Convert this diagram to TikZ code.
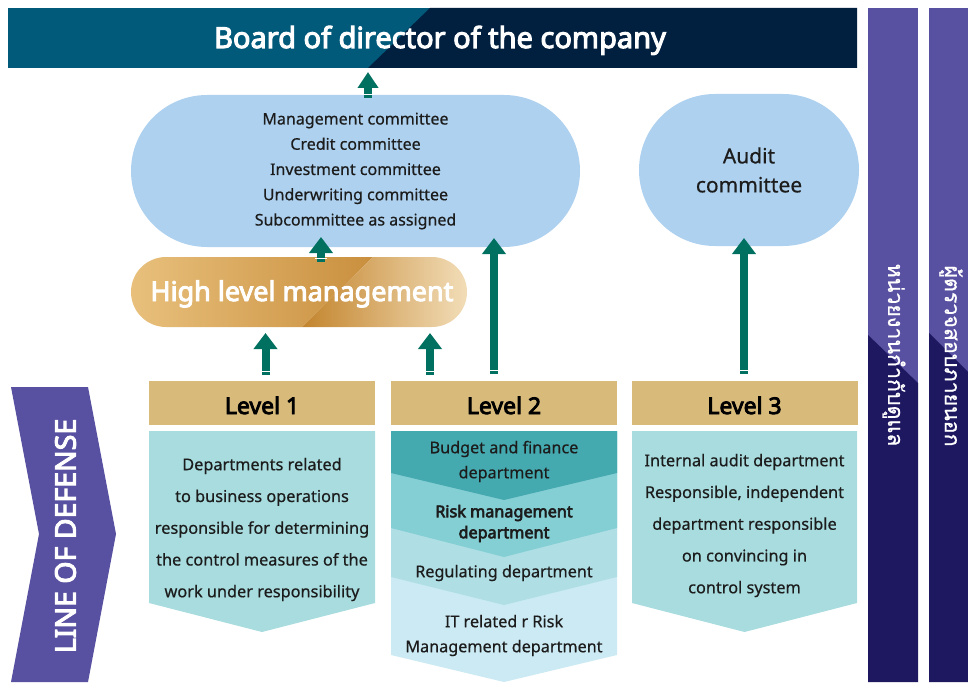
\documentclass[tikz,border=0pt]{standalone}
\usepackage{fontspec}
\setmainfont{Noto Sans}[BoldFont={Noto Sans}, UprightFeatures={FakeBold=0.5}, BoldFeatures={FakeBold=3.6}]
\newfontfamily\thaifont[Script=Thai, FakeBold=0.8]{Loma}
\usetikzlibrary{arrows.meta,calc,shapes.misc}
\definecolor{topL}{HTML}{025A7B}
\definecolor{topR}{HTML}{011F3F}
\definecolor{ovalc}{HTML}{AED1EF}
\definecolor{garr}{HTML}{007060}
\definecolor{hdr}{HTML}{D8BA7B}
\definecolor{bodyc}{HTML}{A8DCDF}
\definecolor{bandA}{HTML}{45A9B0}
\definecolor{bandB}{HTML}{84CFD4}
\definecolor{bandC}{HTML}{AFDFE5}
\definecolor{bandD}{HTML}{CCEAF3}
\definecolor{purp}{HTML}{5850A0}
\definecolor{purpD}{HTML}{1E1860}
\definecolor{txt}{HTML}{1C1C1C}
\definecolor{goldA}{HTML}{E8C07C}
\definecolor{goldB}{HTML}{C98F3E}
\definecolor{goldC}{HTML}{C3852E}
\definecolor{goldD}{HTML}{F2DDB8}
\tikzset{
  ovalbox/.style={rounded rectangle, fill=ovalc, inner sep=0pt, align=center, text=txt},
  hdrbox/.style={fill=hdr, minimum width=226pt, minimum height=44pt, inner sep=0pt,
     text height=22pt, text depth=0pt,
     font=\bfseries\fontsize{23}{26}\selectfont, text=black},
  bodytext/.style={align=center, inner sep=0pt, text=txt, font=\fontsize{16.3}{31.75}\selectfont},
  lvtwotext/.style={align=center, inner sep=0pt, text=txt, font=\fontsize{16.2}{25}\selectfont},
  garrow/.style={draw=garr, line width=8pt, -{Triangle[width=23pt,length=16pt]}},
  thaitext/.style={rotate=-90, text=white, inner sep=0pt, font=\thaifont\fontsize{21.4}{22}\selectfont},
}
\newcommand\tailmark[1]{\draw[white, line width=1.3pt] ($(#1)+(-6,-3.5)$) -- ($(#1)+(6,-3.5)$);}
\begin{document}
\begin{tikzpicture}[x=1pt,y=-1pt]
\useasboundingbox (0,0) rectangle (968,682);
% top bar
\fill[topL] (8,8) rectangle (857,68);
\fill[topR] (430,8) -- (857,8) -- (857,68) -- (368,68) -- cycle;
\node[inner sep=0pt, anchor=base, text=white, font=\bfseries\fontsize{29}{32}\selectfont] (board) at (440,48) {Board of director of the company};
% right bars
\fill[purp] (868,8) rectangle (918,682);
\fill[purpD] (868,335) -- (918,383) -- (918,682) -- (868,682) -- cycle;
\fill[purp] (929,8) rectangle (968,682);
\fill[purpD] (929,333) -- (968,372) -- (968,682) -- (929,682) -- cycle;
\node[thaitext] (gov) at (894,355) {หน่วยงานกำกับดูแล};
\node[thaitext] (ext) at (951,356) {ผู้ตรวจสอบภายนอก};
% committees
\node[ovalbox, minimum width=449pt, minimum height=152pt, font=\fontsize{16}{25.25}\selectfont] (comm) at (355.5,171)
  {Management committee\\Credit committee\\Investment committee\\Underwriting committee\\Subcommittee as assigned};
\node[ovalbox, minimum width=220pt, minimum height=152pt, font=\fontsize{21}{29}\selectfont] (audit) at (749,170)
  {Audit\\committee};
% high level management
\begin{scope}
\clip[rounded corners=35pt] (131,257) rectangle (467,327);
\shade[left color=goldA, right color=goldB] (131,257) -- (373,257) -- (302,327) -- (131,327) -- cycle;
\shade[left color=goldC, right color=goldD] (373,257) -- (467,257) -- (467,327) -- (302,327) -- cycle;
\end{scope}
\node[rounded rectangle, minimum width=336pt, minimum height=70pt, inner sep=0pt] (hl) at (299,292) {};
\node[anchor=base, inner sep=0pt, text=white, font=\bfseries\fontsize{27}{30}\selectfont] (hlt) at (302,301) {High level management};
% line of defense
\fill[purp] (11,387) -- (88,387) -- (116,534) -- (88,682) -- (11,682) -- (39,534) -- cycle;
\node[rotate=90, text=white, inner sep=0pt, font=\bfseries\fontsize{28.5}{30}\selectfont] (lod) at (65.5,536) {LINE OF DEFENSE};
% level headers
\node[hdrbox] (l1) at (262,403) {Level 1};
\node[hdrbox] (l2) at (504,403) {Level 2};
\node[hdrbox] (l3) at (744.5,403) {Level 3};
% level 1 body
\fill[bodyc] (149,431) -- (375,431) -- (375,603) -- (262,632) -- (149,603) -- cycle;
\node[bodytext] (l1t) at (262,529.5) {Departments related\\to business operations\\responsible for determining\\the control measures of the\\work under responsibility};
% level 3 body
\fill[bodyc] (632,431) -- (857,431) -- (857,603) -- (744.5,632) -- (632,603) -- cycle;
\node[bodytext] (l3t) at (744.5,525.5) {Internal audit department\\Responsible, independent\\department responsible\\on convincing in\\control system};
% level 2 bands
\fill[bandD] (391,431) -- (617,431) -- (617,655) -- (504,682) -- (391,655) -- cycle;
\fill[bandC] (391,431) -- (617,431) -- (617,577) -- (504,605) -- (391,577) -- cycle;
\fill[bandB] (391,431) -- (617,431) -- (617,528) -- (504,557) -- (391,528) -- cycle;
\fill[bandA] (391,431) -- (617,431) -- (617,473) -- (504,500) -- (391,473) -- cycle;
\node[lvtwotext] (b1) at (504,461.5) {Budget and finance\\department};
\node[lvtwotext, font=\bfseries\fontsize{16.2}{21}\selectfont] (b2) at (504,523.5) {Risk management\\department};
\node[lvtwotext] (b3) at (504,573) {Regulating department};
\node[lvtwotext] (b4) at (504,635.5) {IT related r Risk\\Management department};
% arrows
\coordinate (a0s) at (368,98);  \coordinate (a0e) at (368,72);
\coordinate (a1s) at (321,262); \coordinate (a1e) at (321,237);
\coordinate (a2s) at (494,374); \coordinate (a2e) at (494,238);
\coordinate (a3s) at (265.5,375); \coordinate (a3e) at (265.5,333);
\coordinate (a4s) at (430,375); \coordinate (a4e) at (430,333);
\coordinate (a5s) at (744,374); \coordinate (a5e) at (744,238);
\draw[garrow, -{Triangle[width=20pt,length=16pt]}] (a0s) -- (a0e); \tailmark{a0s}
\draw[garrow] (a1s) -- (a1e); \tailmark{a1s}
\draw[garrow] (a2s) -- (a2e); \tailmark{a2s}
\draw[garrow] (a3s) -- (a3e); \tailmark{a3s}
\draw[garrow] (a4s) -- (a4e); \tailmark{a4s}
\draw[garrow] (a5s) -- (a5e); \tailmark{a5s}
\end{tikzpicture}
\end{document}
